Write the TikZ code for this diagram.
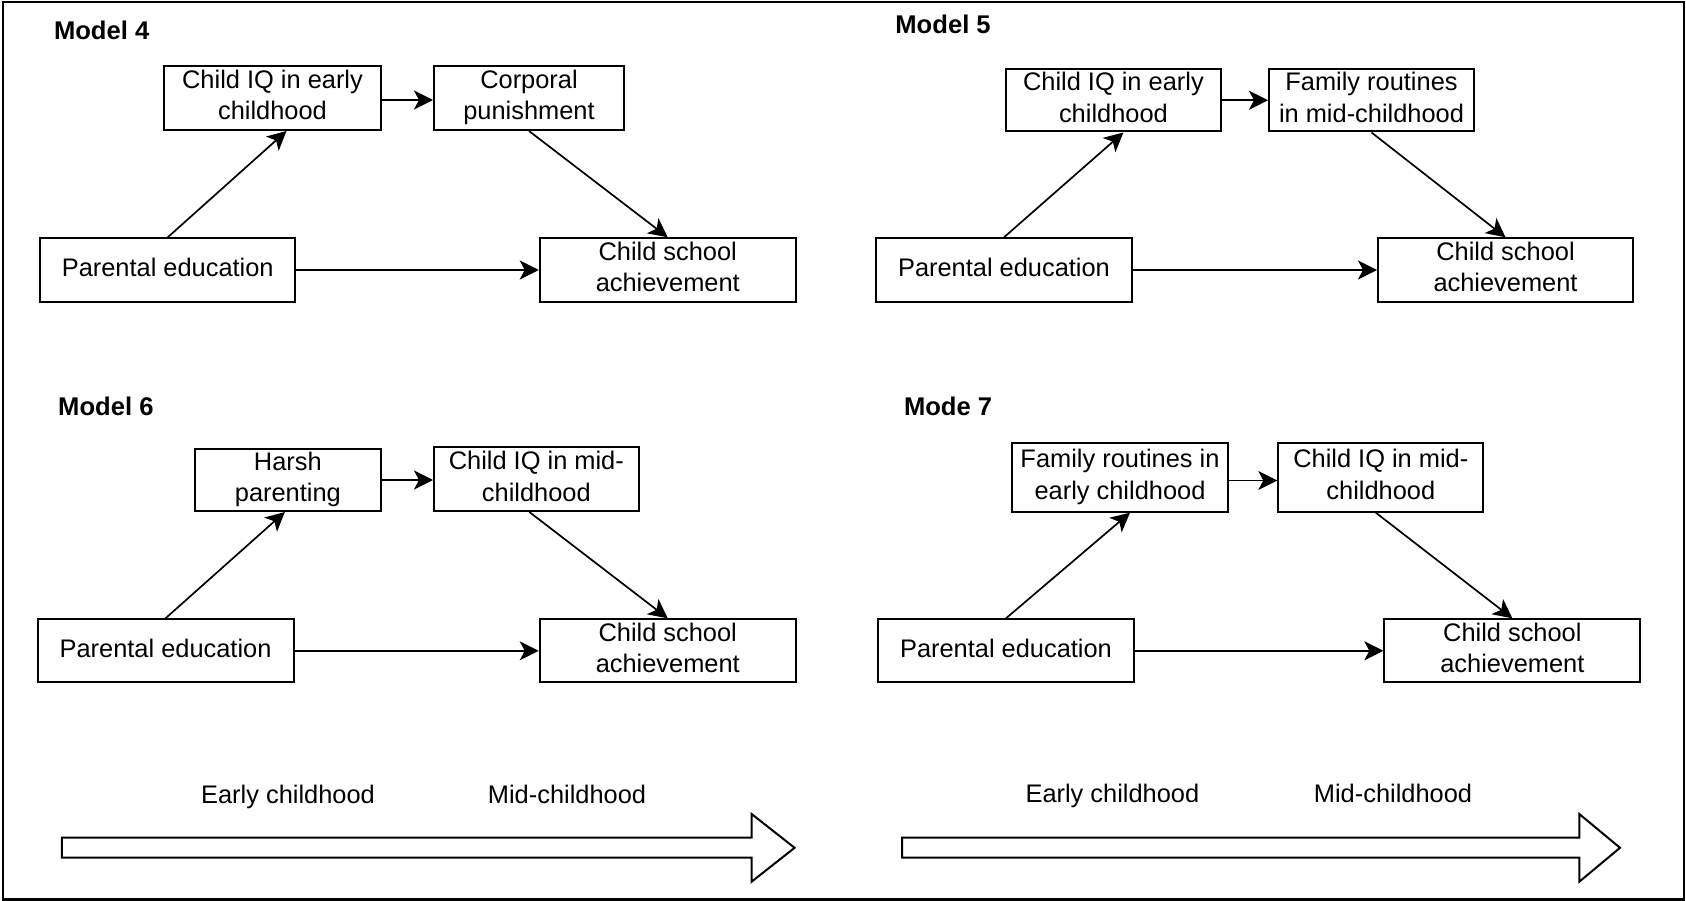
\documentclass[tikz,border=0pt]{standalone}
\usepackage{fontspec}
\setmainfont{Liberation Sans}
\usetikzlibrary{arrows.meta}
\newcommand{\twostrut}{\rule[-6pt]{0pt}{32.5pt}}
\newcommand{\onestrut}{\rule[-6pt]{0pt}{25pt}}
\begin{document}
\begin{tikzpicture}[x=1pt,y=-1pt,
  boxbase/.style={draw=black, line width=2pt, inner sep=0pt, align=center,
    font=\fontsize{25.4}{31.5}\selectfont},
  boxtwo/.style={boxbase, execute at begin node=\twostrut, execute at end node=\twostrut},
  boxone/.style={boxbase, execute at begin node=\onestrut},
  conn/.style={draw=black, line width=1.7pt, -{Stealth[length=19pt,width=19pt,inset=5pt]}},
  ttl/.style={font=\fontsize{25.6}{30}\selectfont\bfseries, anchor=base west, inner sep=0pt},
  lbl/.style={font=\fontsize{25.4}{30}\selectfont, anchor=base, inner sep=0pt},
  barrow/.style={draw=black, line width=2pt, fill=white, line join=miter}
]
\useasboundingbox (0,0) rectangle (1686,901);
\draw[line width=2.5pt] (3,1.8) rectangle (1684,899.5);

% ---------- Model 4
\node[ttl] (t4) at (53.8,39.3) {Model 4};
\node[boxtwo, minimum width=217pt, minimum height=64pt] (aciq) at (272.5,98) {Child IQ in early\\childhood};
\node[boxtwo, minimum width=190pt, minimum height=64pt] (acp) at (529,98) {Corporal\\punishment};
\node[boxone, minimum width=255pt, minimum height=63.4pt] (ape) at (167.75,270) {Parental education};
\node[boxtwo, minimum width=256pt, minimum height=63.4pt] (acs) at (667.75,270) {Child school\\achievement};
\draw[conn] ([yshift=-2pt]aciq.east) -- ([yshift=-2pt]acp.west);
\draw[conn] (ape.north) -- ([xshift=14pt]aciq.south);
\draw[conn] (acp.south) -- (acs.north);
\draw[conn] (ape.east) -- (acs.west);

% ---------- Model 5
\node[ttl] (t5) at (895.2,33.3) {Model 5};
\node[boxtwo, minimum width=215.3pt, minimum height=62.5pt] (bciq) at (1113.4,100.25) {Child IQ in early\\childhood};
\node[boxtwo, minimum width=205pt, minimum height=62.5pt] (bfr) at (1371.5,100.25) {Family routines\\in mid-childhood};
\node[boxone, minimum width=255.4pt, minimum height=63.4pt] (bpe) at (1004,270) {Parental education};
\node[boxtwo, minimum width=255pt, minimum height=63.4pt] (bcs) at (1505.5,270) {Child school\\achievement};
\draw[conn] (bciq.east) -- (bfr.west);
\draw[conn] (bpe.north) -- ([xshift=10pt]bciq.south);
\draw[conn] (bfr.south) -- (bcs.north);
\draw[conn] (bpe.east) -- (bcs.west);

% ---------- Model 6
\node[ttl] (t6) at (58,415) {Model 6};
\node[boxtwo, minimum width=185.7pt, minimum height=62pt] (chp) at (287.85,480) {Harsh\\parenting};
\node[boxtwo, minimum width=204.7pt, minimum height=63.7pt] (cciq) at (536.35,479.15) {Child IQ in mid-\\childhood};
\node[boxone, minimum width=256pt, minimum height=63pt] (cpe) at (165.55,650.8) {Parental education};
\node[boxtwo, minimum width=256pt, minimum height=63pt] (ccs) at (667.75,650.8) {Child school\\achievement};
\draw[conn] (chp.east) -- (chp.east -| cciq.west);
\draw[conn] (cpe.north) -- ([xshift=-3pt]chp.south);
\draw[conn] ([xshift=-7pt]cciq.south) -- (ccs.north);
\draw[conn] (cpe.east) -- (ccs.west);

% ---------- Model 7
\node[ttl] (t7) at (903.8,415) {Mode 7};
\node[boxtwo, minimum width=215.4pt, minimum height=68.4pt] (dfr) at (1120,477.5) {Family routines in\\early childhood};
\node[boxtwo, minimum width=205pt, minimum height=68.4pt] (dciq) at (1380.8,477.5) {Child IQ in mid-\\childhood};
\node[boxone, minimum width=256pt, minimum height=63pt] (dpe) at (1006,650.8) {Parental education};
\node[boxtwo, minimum width=256pt, minimum height=63pt] (dcs) at (1512.35,650.8) {Child school\\achievement};
\draw[conn] ([yshift=-3pt]dfr.east) -- ([yshift=-3pt]dciq.west);
\draw[conn] (dpe.north) -- ([xshift=10pt]dfr.south);
\draw[conn] ([xshift=-5pt]dciq.south) -- (dcs.north);
\draw[conn] (dpe.east) -- (dcs.west);

% ---------- Timelines
\node[lbl] (e1) at (288,803.3) {Early childhood};
\node[lbl] (m1) at (567,803.3) {Mid-childhood};
\node[lbl] (e2) at (1112.4,802.7) {Early childhood};
\node[lbl] (m2) at (1393,802.7) {Mid-childhood};
\draw[barrow] (61.8,837.7) -- (751.6,837.7) -- (751.6,814) -- (794.6,847.8) -- (751.6,881.7) -- (751.6,857.7) -- (61.8,857.7) -- cycle;
\draw[barrow] (902.1,837.7) -- (1579.3,837.7) -- (1579.3,814) -- (1620,847.8) -- (1579.3,881.7) -- (1579.3,857.7) -- (902.1,857.7) -- cycle;
\end{tikzpicture}
\end{document}
